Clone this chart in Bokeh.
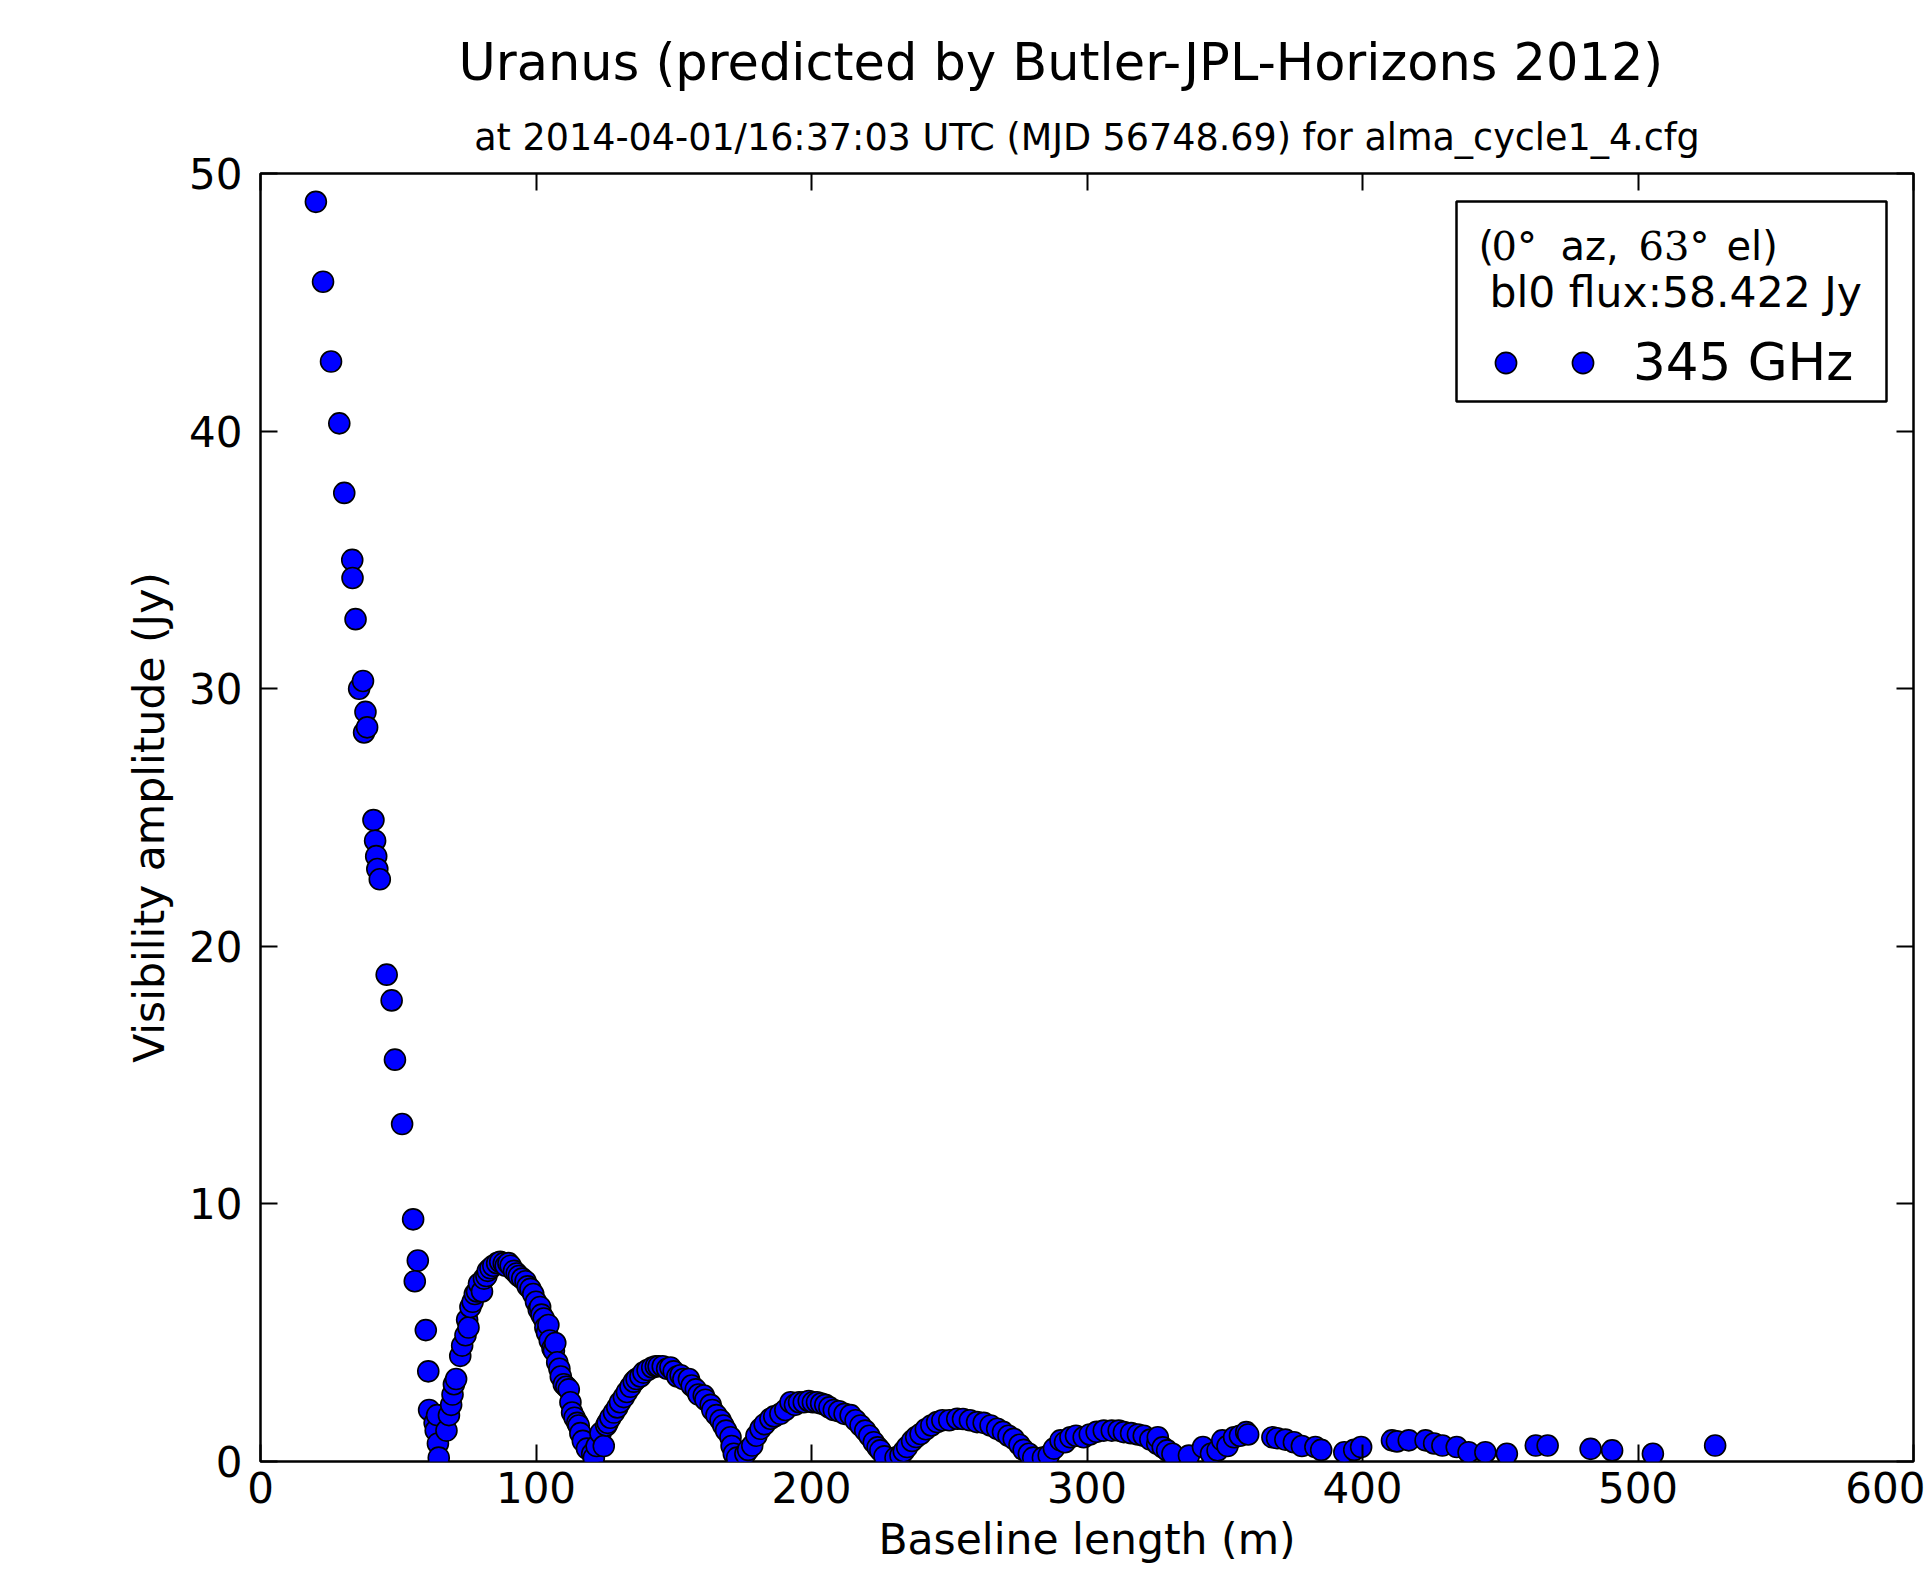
from bokeh.plotting import figure
from bokeh.models import (Range1d, LinearAxis, FixedTicker, Label, BoxAnnotation,
                          Legend, LegendItem, ColumnDataSource, Title)
from bokeh.embed import file_html
from bokeh.resources import INLINE

FONT = "DejaVu Sans"
SERIF = "DejaVu Serif"

TITLE = "Uranus (predicted by Butler-JPL-Horizons 2012)"
SUBTITLE = "at 2014-04-01/16:37:03 UTC (MJD 56748.69) for alma_cycle1_4.cfg"
X_LABEL = "Baseline length (m)"
Y_LABEL = "Visibility amplitude (Jy)"
X_TICKS = [0, 100, 200, 300, 400, 500, 600]
Y_TICKS = [0, 10, 20, 30, 40, 50]
SERIES_LABEL = "345 GHz"
FLUX_TEXT = " bl0 flux:58.422 Jy"

# main lobe
lobe1_x = [20.1, 22.7, 25.6, 28.6, 30.4, 33.3, 33.4, 34.5, 35.8, 37.2, 37.6, 38.1, 38.7,
           41.0, 41.6, 42.0, 42.4, 43.3, 45.8, 47.6, 48.8, 51.4, 55.4, 57.1, 56.0,
           60.0, 60.9, 61.2, 63.2, 63.6, 64.1, 64.4, 64.7]
lobe1_y = [48.9, 45.8, 42.7, 40.3, 37.6, 35.0, 34.3, 32.7, 30.0, 30.3, 28.3, 29.1, 28.5,
           24.9, 24.1, 23.5, 23.0, 22.6, 18.9, 17.9, 15.6, 13.1, 9.4, 7.8, 7.0,
           5.1, 3.5, 2.0, 1.5, 1.2, 1.8, 0.7, 0.15]
# second lobe
lobe2_x = [67.5, 68.4, 69.2, 69.7, 70.2, 71.0, 72.5, 73.2, 74.4, 75.0, 75.5, 76.2, 77.0,
           77.8, 78.6, 79.3, 80.4, 81.1, 82.0, 82.5, 83.5, 84.5, 85.9, 87.0, 88.3, 89.0,
           90.0, 90.8, 92.0, 93.0, 93.8, 95.0, 96.2, 97.0, 98.0, 99.0, 100.0, 101.0,
           101.5, 102.0, 102.8, 103.4, 104.0, 104.5, 105.0, 106.0, 106.5, 107.0, 107.7,
           108.5, 109.0, 110.1, 111.0, 111.9, 112.5, 113.1, 114.0, 115.0, 115.5, 116.1,
           117.0, 118.5, 120.4, 121.0, 122.0, 123.4, 124.6]
lobe2_y = [1.2, 1.8, 2.2, 2.6, 3.0, 3.2, 4.1, 4.5, 4.9, 5.5, 5.2, 6.0, 6.2,
           6.5, 6.6, 6.9, 6.6, 7.1, 7.2, 7.4, 7.5, 7.6, 7.7, 7.75, 7.7, 7.6,
           7.7, 7.6, 7.4, 7.3, 7.2, 7.1, 7.0, 6.8, 6.7, 6.5, 6.2, 5.9,
           6.0, 5.7, 5.55, 5.2, 5.0, 5.3, 4.7, 4.4, 4.3, 4.6, 3.85,
           3.6, 3.3, 3.0, 2.9, 2.8, 2.3, 1.9, 1.7, 1.5, 1.4, 1.1,
           0.8, 0.5, 0.3, 0.15, 0.6, 1.1, 0.6]
# third lobe
lobe3_x = [125.5, 126.0, 127.0, 128.3, 129.5, 130.5, 131.9, 133.0, 134.3, 135.5, 136.5,
           137.9, 139.0, 140.5, 142.2, 143.5, 144.5, 146.0, 147.6, 148.8, 150.0, 151.3,
           152.5, 153.5, 155.5, 156.5, 158.0, 159.0, 160.9, 161.5, 163.4, 164.0, 165.5,
           167.0, 168.0, 169.0, 170.6, 171.0, 171.8, 173.0]
lobe3_y = [1.4, 1.5, 1.7, 1.9, 2.1, 2.3, 2.5, 2.7, 2.9, 3.1, 3.2,
           3.3, 3.45, 3.55, 3.65, 3.7, 3.7, 3.7, 3.6, 3.65, 3.5, 3.3,
           3.35, 3.2, 3.2, 2.95, 2.8, 2.6, 2.56, 2.4, 2.2, 2.0, 1.8,
           1.6, 1.4, 1.2, 0.94, 0.6, 0.3, 0.15]
# fourth lobe
lobe4_x = [176.0, 177.0, 178.5, 180.0, 181.5, 183.0, 185.1, 186.5, 188.7, 190.5, 192.4,
           194.0, 195.5, 197.2, 199.0, 200.5, 202.0, 203.5, 205.0, 206.5, 208.1, 210.0,
           212.0, 214.2, 216.0, 217.8, 219.5, 221.0, 222.6, 224.0, 225.0, 226.5]
lobe4_y = [0.3, 0.45, 0.62, 1.0, 1.27, 1.45, 1.66, 1.75, 1.85, 2.0, 2.3,
           2.2, 2.3, 2.3, 2.35, 2.3, 2.3, 2.25, 2.2, 2.1, 2.0, 1.95,
           1.85, 1.8, 1.6, 1.4, 1.2, 1.0, 0.75, 0.55, 0.43, 0.2]
# fifth lobe
lobe5_x = [230.5, 232.3, 233.5, 234.7, 236.5, 238.0, 239.6, 241.5, 243.5, 245.6, 247.5,
           250.0, 252.9, 255.0, 257.5, 260.1, 262.5, 265.0, 267.4, 269.5, 271.5, 273.4,
           275.5, 277.0, 278.9, 280.5]
lobe5_y = [0.15, 0.23, 0.4, 0.56, 0.8, 0.95, 1.07, 1.25, 1.4, 1.53, 1.6,
           1.6, 1.66, 1.65, 1.6, 1.53, 1.5, 1.4, 1.27, 1.15, 1.0, 0.88,
           0.65, 0.45, 0.3, 0.15]
# sixth lobe
lobe6_x = [284.0, 286.1, 288.0, 290.4, 292.0, 294.0, 296.0, 298.8, 301.0, 303.5, 306.1,
           309.0, 311.5, 313.4, 316.0, 318.5, 320.6, 323.0, 325.5, 325.7, 327.5, 329.1,
           331.0]
lobe6_y = [0.15, 0.23, 0.5, 0.82, 0.75, 0.94, 1.0, 0.94, 1.05, 1.15, 1.2,
           1.2, 1.2, 1.14, 1.1, 1.05, 1.0, 0.85, 0.69, 0.94, 0.55, 0.43,
           0.3]
# long baselines
tail_x = [337.0, 342.1, 345.0, 347.4, 349.1, 351.0, 353.4, 355.5, 357.8, 358.5, 367.3,
          369.0, 372.0, 375.1, 378.0, 382.9, 385.0, 393.4, 397.0, 399.5, 410.7, 412.5,
          416.8, 422.9, 426.0, 429.0, 434.2, 438.5, 444.6, 452.4, 462.9, 467.2, 482.8,
          490.6, 505.4, 528.0]
tail_y = [0.23, 0.56, 0.3, 0.43, 0.82, 0.6, 0.94, 1.0, 1.14, 1.05, 0.94,
          0.9, 0.85, 0.75, 0.6, 0.56, 0.45, 0.36, 0.45, 0.56, 0.82, 0.78,
          0.82, 0.82, 0.7, 0.62, 0.56, 0.36, 0.36, 0.3, 0.62, 0.62, 0.49,
          0.43, 0.3, 0.62]

baseline_m = lobe1_x + lobe2_x + lobe3_x + lobe4_x + lobe5_x + lobe6_x + tail_x
amplitude_jy = lobe1_y + lobe2_y + lobe3_y + lobe4_y + lobe5_y + lobe6_y + tail_y

source = ColumnDataSource(data=dict(x=baseline_m, y=amplitude_jy))

p = figure(width=1925, height=1578,
           x_range=Range1d(X_TICKS[0], X_TICKS[-1]), y_range=Range1d(Y_TICKS[0], Y_TICKS[-1]),
           output_backend="svg", toolbar_location=None,
           min_border_left=260, min_border_right=12, min_border_top=173, min_border_bottom=117,
           background_fill_color="white", border_fill_color="white")
p.outline_line_color = "black"
p.outline_line_width = 2.5
p.xgrid.visible = False
p.ygrid.visible = False

top_axis = LinearAxis()
right_axis = LinearAxis()
p.add_layout(top_axis, "above")
p.add_layout(right_axis, "right")

bottom_axis = p.below[0]
left_axis = p.left[0]


def style_axis(ax, ticks, show):
    ax.ticker = FixedTicker(ticks=ticks)
    ax.axis_line_color = None
    ax.major_tick_in = 17
    ax.major_tick_out = 0
    ax.minor_tick_line_color = None
    ax.major_tick_line_color = "black"
    ax.major_tick_line_width = 2
    ax.major_label_text_font = FONT
    if show:
        ax.major_label_text_color = "black"
        ax.major_label_text_font_size = "42px"
        ax.axis_label_text_font = FONT
        ax.axis_label_text_font_size = "42.5px"
        ax.axis_label_text_font_style = "normal"
        ax.axis_label_text_color = "black"
    else:
        ax.major_label_text_color = None
        ax.major_label_text_font_size = "2px"
        ax.major_label_standoff = 0


style_axis(bottom_axis, X_TICKS, True)
style_axis(top_axis, X_TICKS, False)
style_axis(left_axis, Y_TICKS, True)
style_axis(right_axis, Y_TICKS, False)

bottom_axis.axis_label = X_LABEL
bottom_axis.major_label_standoff = 10
bottom_axis.axis_label_standoff = 9
left_axis.axis_label = Y_LABEL
left_axis.major_label_standoff = 18
left_axis.axis_label_standoff = 12

r = p.scatter(x="x", y="y", source=source, size=21, marker="circle",
              fill_color="#0000ff", line_color="black", line_width=1.6)

# titles: subtitle first (closest to the frame), then the main title above it
p.add_layout(Title(text=SUBTITLE, align="center", text_font=FONT, text_font_size="36.5px",
                   text_font_style="normal", text_color="black", standoff=29), "above")
p.add_layout(Title(text=TITLE, align="left", offset=198, text_font=FONT,
                   text_font_size="51px", text_font_style="normal", text_color="black",
                   standoff=15), "above")

# legend frame
p.add_layout(BoxAnnotation(left=1196, right=1626, top=1260, bottom=1060,
                           left_units="screen", right_units="screen",
                           top_units="screen", bottom_units="screen",
                           fill_color="white", fill_alpha=1.0,
                           line_color="black", line_alpha=1.0, line_width=2.5))

# legend header lines
header_parts = [("(", FONT, 1218), ("0°", SERIF, 1231), ("az,", FONT, 1300),
                ("63°", SERIF, 1378), ("el)", FONT, 1466)]
for txt, fnt, xx in header_parts:
    p.add_layout(Label(x=xx, y=1216, x_units="screen", y_units="screen", text=txt,
                       text_align="left", text_baseline="alphabetic",
                       text_font=fnt, text_font_size="40px", text_color="black"))
p.add_layout(Label(x=1229, y=1169, x_units="screen", y_units="screen", text=FLUX_TEXT,
                   text_align="left", text_baseline="alphabetic",
                   text_font=FONT, text_font_size="42.5px", text_color="black"))

legend = Legend(items=[LegendItem(label="", renderers=[r]),
                       LegendItem(label=SERIES_LABEL, renderers=[r])],
                orientation="horizontal", location=(1219, 1069),
                glyph_width=53, glyph_height=53, label_standoff=24, spacing=-17,
                padding=0, margin=0, label_width=0, label_height=0,
                border_line_color=None, background_fill_alpha=0,
                label_text_font=FONT, label_text_font_size="51.5px",
                label_text_color="black")
p.add_layout(legend)

open("out.html", "w").write(file_html(p, INLINE))
